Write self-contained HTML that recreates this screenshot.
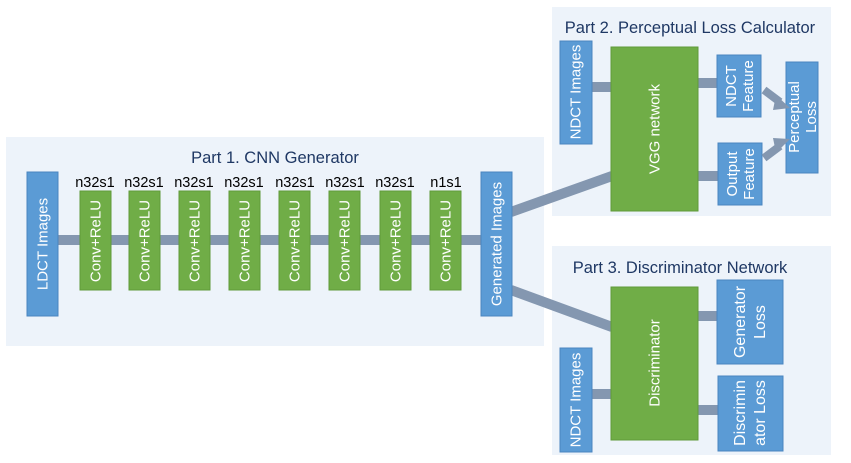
<!DOCTYPE html>
<html><head><meta charset="utf-8"><style>html,body{margin:0;padding:0;background:#fff}svg{display:block}</style></head><body>
<svg width="851" height="463" xmlns="http://www.w3.org/2000/svg" font-family="Liberation Sans, sans-serif">
<defs><style>.b{fill:#5b9bd5;stroke:#4a86c0;stroke-width:1}.g{fill:#70ad47;stroke:#5f9a3a;stroke-width:1}.t{fill:#fff;font-size:15px;text-anchor:middle;dominant-baseline:central}.c{stroke:#8497b0;stroke-width:10}.h{fill:#1f3864;font-size:16.5px;text-anchor:middle}</style></defs>
<rect x="6" y="137" width="538" height="209" fill="#edf3fa"/>
<rect x="552" y="7" width="279" height="209" fill="#edf3fa"/>
<rect x="552" y="246" width="279" height="209" fill="#edf3fa"/>
<text class="h" x="275" y="163">Part 1. CNN Generator</text>
<text class="h" x="690" y="33">Part 2. Perceptual Loss Calculator</text>
<text class="h" x="680" y="273">Part 3. Discriminator Network</text>
<line class="c" x1="58" y1="240" x2="482" y2="240"/>
<line class="c" x1="511" y1="212" x2="612" y2="176"/>
<line class="c" x1="511" y1="290" x2="612" y2="327"/>
<line class="c" x1="591" y1="87" x2="612" y2="87"/>
<line class="c" x1="697" y1="83" x2="718" y2="83"/>
<line class="c" x1="697" y1="176" x2="718" y2="176"/>
<line class="c" x1="591" y1="394" x2="612" y2="394"/>
<line class="c" x1="697" y1="316" x2="718" y2="316"/>
<line class="c" x1="697" y1="410" x2="718" y2="410"/>
<rect class="b" x="27" y="172" width="31" height="144"/>
<text class="t" transform="translate(43,244) rotate(-90)">LDCT Images</text>
<rect class="b" x="481" y="172" width="31" height="144"/>
<text class="t" transform="translate(497,244) rotate(-90)">Generated Images</text>
<g font-size="14.5" fill="#000" text-anchor="middle">
<text x="95" y="187">n32s1</text><text x="144" y="187">n32s1</text><text x="194" y="187">n32s1</text><text x="244" y="187">n32s1</text><text x="295" y="187">n32s1</text><text x="345" y="187">n32s1</text><text x="395" y="187">n32s1</text><text x="446" y="187">n1s1</text>
</g>
<g>
<rect class="g" x="80" y="191" width="31" height="99"/><text class="t" transform="translate(96,241) rotate(-90)">Conv+ReLU</text>
<rect class="g" x="129" y="191" width="31" height="99"/><text class="t" transform="translate(145,241) rotate(-90)">Conv+ReLU</text>
<rect class="g" x="179" y="191" width="31" height="99"/><text class="t" transform="translate(195,241) rotate(-90)">Conv+ReLU</text>
<rect class="g" x="229" y="191" width="31" height="99"/><text class="t" transform="translate(245,241) rotate(-90)">Conv+ReLU</text>
<rect class="g" x="279" y="191" width="31" height="99"/><text class="t" transform="translate(295,241) rotate(-90)">Conv+ReLU</text>
<rect class="g" x="329" y="191" width="31" height="99"/><text class="t" transform="translate(345,241) rotate(-90)">Conv+ReLU</text>
<rect class="g" x="380" y="191" width="31" height="99"/><text class="t" transform="translate(396,241) rotate(-90)">Conv+ReLU</text>
<rect class="g" x="430" y="191" width="31" height="99"/><text class="t" transform="translate(446,241) rotate(-90)">Conv+ReLU</text>
</g>
<rect class="b" x="560" y="41" width="32" height="103"/><text class="t" transform="translate(576,92) rotate(-90)">NDCT Images</text>
<rect class="g" x="611" y="47" width="87" height="164"/><text class="t" transform="translate(655,129) rotate(-90)">VGG network</text>
<rect class="b" x="717" y="55" width="44" height="62"/><text class="t" transform="translate(739,86) rotate(-90)"><tspan x="0" dy="-8">NDCT</tspan><tspan x="0" dy="17">Feature</tspan></text>
<rect class="b" x="718" y="143" width="44" height="62"/><text class="t" transform="translate(740,174) rotate(-90)"><tspan x="0" dy="-8">Output</tspan><tspan x="0" dy="17">Feature</tspan></text>
<rect class="b" x="786" y="62" width="32" height="111"/><text class="t" transform="translate(802,117) rotate(-90)"><tspan x="0" dy="-8">Perceptual</tspan><tspan x="0" dy="17">Loss</tspan></text>
<line x1="764" y1="90" x2="780" y2="102" stroke="#8497b0" stroke-width="8"/>
<polygon points="776,95 790,108 773,110" fill="#8497b0"/>
<line x1="764" y1="158" x2="780" y2="146" stroke="#8497b0" stroke-width="8"/>
<polygon points="773,138 790,139 776,153" fill="#8497b0"/>
<rect class="b" x="560" y="348" width="32" height="104"/><text class="t" transform="translate(576,400) rotate(-90)">NDCT Images</text>
<rect class="g" x="611" y="287" width="87" height="153"/><text class="t" transform="translate(655,363) rotate(-90)">Discriminator</text>
<rect class="b" x="717" y="280" width="66" height="84"/><text class="t" style="font-size:16px" transform="translate(750,322) rotate(-90)"><tspan x="0" dy="-10">Generator</tspan><tspan x="0" dy="20">Loss</tspan></text>
<rect class="b" x="718" y="376" width="65" height="75"/><text class="t" style="font-size:16px" transform="translate(750,413) rotate(-90)"><tspan x="0" dy="-10">Discrimin</tspan><tspan x="0" dy="20">ator Loss</tspan></text>
</svg>
</body></html>
